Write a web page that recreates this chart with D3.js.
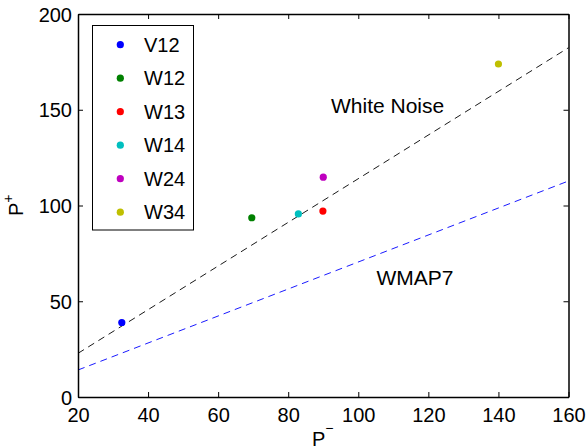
<!DOCTYPE html>
<html><head><meta charset="utf-8">
<script src="https://cdn.jsdelivr.net/npm/d3@7"></script>
<style>body{margin:0;background:#fff}svg{display:block}text{font-family:"Liberation Sans",Arial,Helvetica,sans-serif}</style>
</head><body><svg id="c" width="588" height="447"></svg>
<script>
const names = ["V12","W12","W13","W14","W24","W34"];
const pMinus = [32.5, 69.6, 89.9, 82.9, 90.0, 140.0];
const pPlus = [38.9, 93.6, 97.1, 95.6, 114.8, 173.9];
const colors = ["#0000ff","#008000","#ff0000","#00bfbf","#bf00bf","#bfbf00"];
const xTicks = [20,40,60,80,100,120,140,160];
const yTicks = [0,50,100,150,200];
const whiteNoiseSlope = 1.14;
const wmapSlope = 0.705;

const W=588,H=447, m={l:78,t:14,r:19.5,b:50};
const svg=d3.select("#c");
const x=d3.scaleLinear().domain([20,160]).range([m.l,W-m.r]);
const y=d3.scaleLinear().domain([0,200]).range([H-m.b,m.t]);
const fs=20;

// lines
const lineGen=d3.line().x(d=>x(d[0])).y(d=>y(d[1]));
svg.append("path").datum([[20,20*whiteNoiseSlope],[160,160*whiteNoiseSlope]])
  .attr("d",lineGen).attr("fill","none").attr("stroke","#000").attr("stroke-width",0.9).attr("stroke-dasharray","7,5");
svg.append("path").datum([[20,20*wmapSlope],[160,160*wmapSlope]])
  .attr("d",lineGen).attr("fill","none").attr("stroke","#0000ff").attr("stroke-width",0.9).attr("stroke-dasharray","7,5");

// points
svg.selectAll("circle.pt").data(names).enter().append("circle").attr("class","pt")
  .attr("cx",(d,i)=>x(pMinus[i])).attr("cy",(d,i)=>y(pPlus[i])).attr("r",3.6).attr("fill",(d,i)=>colors[i]);

// axes
const tl=5;
const gx=svg.append("g").attr("transform",`translate(0,${H-m.b})`)
  .call(d3.axisBottom(x).tickValues(xTicks).tickSizeInner(-tl).tickSizeOuter(0).tickPadding(11).tickFormat(d3.format("d")));
const gy=svg.append("g").attr("transform",`translate(${m.l},0)`)
  .call(d3.axisLeft(y).tickValues(yTicks).tickSizeInner(-tl).tickSizeOuter(0).tickPadding(6).tickFormat(d3.format("d")));
const gt=svg.append("g").attr("transform",`translate(0,${m.t})`)
  .call(d3.axisTop(x).tickValues(xTicks).tickSizeInner(-tl).tickSizeOuter(0).tickFormat(""));
const gr=svg.append("g").attr("transform",`translate(${W-m.r},0)`)
  .call(d3.axisRight(y).tickValues(yTicks).tickSizeInner(-tl).tickSizeOuter(0).tickFormat(""));
[gx,gy,gt,gr].forEach(g=>{
  g.selectAll("text").attr("font-size",fs).attr("fill","#000").style("font-family",'"Liberation Sans",Arial,sans-serif');
  g.selectAll("line").attr("stroke","#000");
  g.select(".domain").attr("stroke","#000").attr("stroke-width",1.5);
});
gy.selectAll(".tick text").attr("dy","0.36em");

// axis labels
const xl=svg.append("text").attr("x",312).attr("y",446).attr("font-size",fs);
xl.append("tspan").text("P");
xl.append("tspan").attr("dy",-13).attr("font-size",14).text("−");
const yl=svg.append("text").attr("transform","translate(23,216) rotate(-90)").attr("font-size",fs);
yl.append("tspan").text("P");
yl.append("tspan").attr("dy",-10).attr("font-size",14).text("+");

// annotations
svg.append("text").attr("x",331).attr("y",113).attr("font-size",21).text("White Noise");
svg.append("text").attr("x",376.5).attr("y",285).attr("font-size",21).text("WMAP7");

// legend
const lg=svg.append("g");
lg.append("rect").attr("x",92.5).attr("y",25.5).attr("width",101).attr("height",204.5)
  .attr("fill","#fff").attr("stroke","#000").attr("stroke-width",1);
const items=lg.selectAll("g.it").data(names).enter().append("g").attr("class","it")
  .attr("transform",(d,i)=>`translate(0,${44.7+i*33.5})`);
items.append("circle").attr("cx",120.3).attr("cy",0).attr("r",3.6).attr("fill",(d,i)=>colors[i]);
items.append("text").attr("x",144).attr("y",0).attr("dy","0.36em").attr("font-size",fs).text(d=>d);
</script></body></html>
